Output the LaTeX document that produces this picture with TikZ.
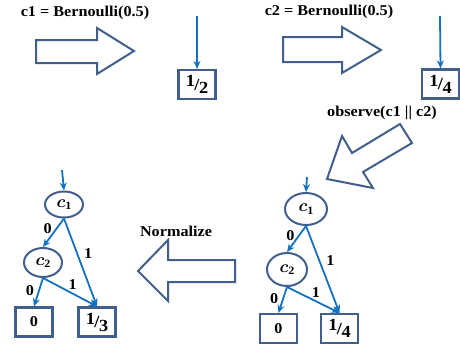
\documentclass[tikz,border=0pt]{standalone}
\usepackage{amsmath, amssymb}
\usepackage{fontspec}
\setmainfont[FakeStretch=1.08]{Liberation Serif}
\usepackage{tikz}
\usetikzlibrary{calc, arrows.meta, shapes.geometric}
\definecolor{boxline}{RGB}{65,95,140}
\definecolor{wireblue}{RGB}{20,112,192}
\newcommand{\slfrac}[2]{{\fontsize{17}{19}\selectfont\raisebox{3.5pt}{#1}\kern-0.5pt/\kern-0.5pt\raisebox{-3.5pt}{#2}}}
\newcommand{\cvar}[1]{{\fontsize{16}{18}\selectfont$\boldsymbol{c}_{\mathbf{#1}}$}}

\begin{document}
\begin{tikzpicture}[x=1pt, y=-1pt,
    every node/.style={font=\bfseries\fontsize{15}{17}\selectfont, text=black},
    fat/.style={draw=boxline, line width=2pt, fill=white, line join=miter},
    leaf/.style={draw=boxline, line width=2.2pt, minimum width=37pt, minimum height=29pt, inner sep=0pt},
    var/.style={draw=boxline, line width=2pt, ellipse, inner sep=0pt},
    wire/.style={wireblue, line width=1.8pt, -{Stealth[length=8pt, width=7pt]}},
    lbl/.style={inner sep=1pt}]
    \useasboundingbox (0,0) rectangle (460,349);% Keeps the page size

    % Headings
    \node (Head1) at (85,13) {c1 = Bernoulli(0.5)};
    \node (Head2) at (329,12) {c2 = Bernoulli(0.5)};
    \node (Observe) at (382,113) {observe(c1 || c2)};
    \node (Normal) at (176,231) {Normalize};

    % The fat arrows, drawn corner by corner
    \draw [fat] (36,40) -- (97,40) -- (97,28) -- (134,51) -- (97,74) -- (97,63) -- (36,63) -- cycle;
    \draw [fat] (283,37) -- (342,37) -- (342,27) -- (381,50) -- (342,73) -- (342,62) -- (283,62) -- cycle;
    \draw [fat] (400,124) -- (352,153) -- (342,136) -- (327,179) -- (373,188) -- (363,172) -- (412,143) -- cycle;
    \draw [fat] (235,260) -- (168,260) -- (168,240) -- (138,271) -- (168,301) -- (168,282) -- (235,282) -- cycle;

    % Top row: one leaf each
    \coordinate (InHalf) at (197,16);
    \coordinate (InQuarter) at (440,16);
    \node [leaf] (Half) at (197,84.5) {\slfrac{1}{2}};
    \node [leaf] (Quarter) at (440.5,84) {\slfrac{1}{4}};
    \draw [wire] (InHalf) -- (Half.north);
    \draw [wire] (InQuarter) -- (Quarter.north);

    % Right tree (after observe)
    \coordinate (InRight) at (307,177);
    \node [var, minimum width=42pt, minimum height=32pt] (RcOne) at (306,209) {\cvar{1}};
    \node [var, minimum width=40pt, minimum height=33pt] (RcTwo) at (287,269.5) {\cvar{2}};
    \node [leaf] (RZero) at (278.5,328.5) {0};
    \node [leaf] (RQuarter) at (339.5,328.5) {\slfrac{1}{4}};
    \draw [wire] (InRight) -- (RcOne.north);
    \draw [wire] (RcOne.south) -- node [lbl, pos=0.35, left=3pt] {0} (RcTwo.north);
    \draw [wire] (RcOne.south) -- node [lbl, pos=0.4, right=5pt] {1} (RQuarter.north);
    \draw [wire] (RcTwo.south) -- node [lbl, pos=0.45, left=3pt] {0} (RZero.north);
    \draw [wire] (RcTwo.south) -- node [lbl, pos=0.55, above=2pt] {1} (RQuarter.north);

    % Left tree (after normalize)
    \coordinate (InLeft) at (62,170);
    \node [var, minimum width=38pt, minimum height=26pt] (LcOne) at (64,204.5) {\cvar{1}};
    \node [var, minimum width=38pt, minimum height=29pt] (LcTwo) at (43,262.5) {\cvar{2}};
    \node [leaf] (LZero) at (34,322) {0};
    \node [leaf] (LThird) at (97,322) {\slfrac{1}{3}};
    \draw [wire] (InLeft) -- (LcOne.north);
    \draw [wire] (LcOne.south) -- node [lbl, pos=0.35, left=3pt] {0} (LcTwo.north);
    \draw [wire] (LcOne.south) -- node [lbl, pos=0.4, right=5pt] {1} (LThird.north);
    \draw [wire] (LcTwo.south) -- node [lbl, pos=0.45, left=3pt] {0} (LZero.north);
    \draw [wire] (LcTwo.south) -- node [lbl, pos=0.55, above=2pt] {1} (LThird.north);
\end{tikzpicture}
\end{document}
